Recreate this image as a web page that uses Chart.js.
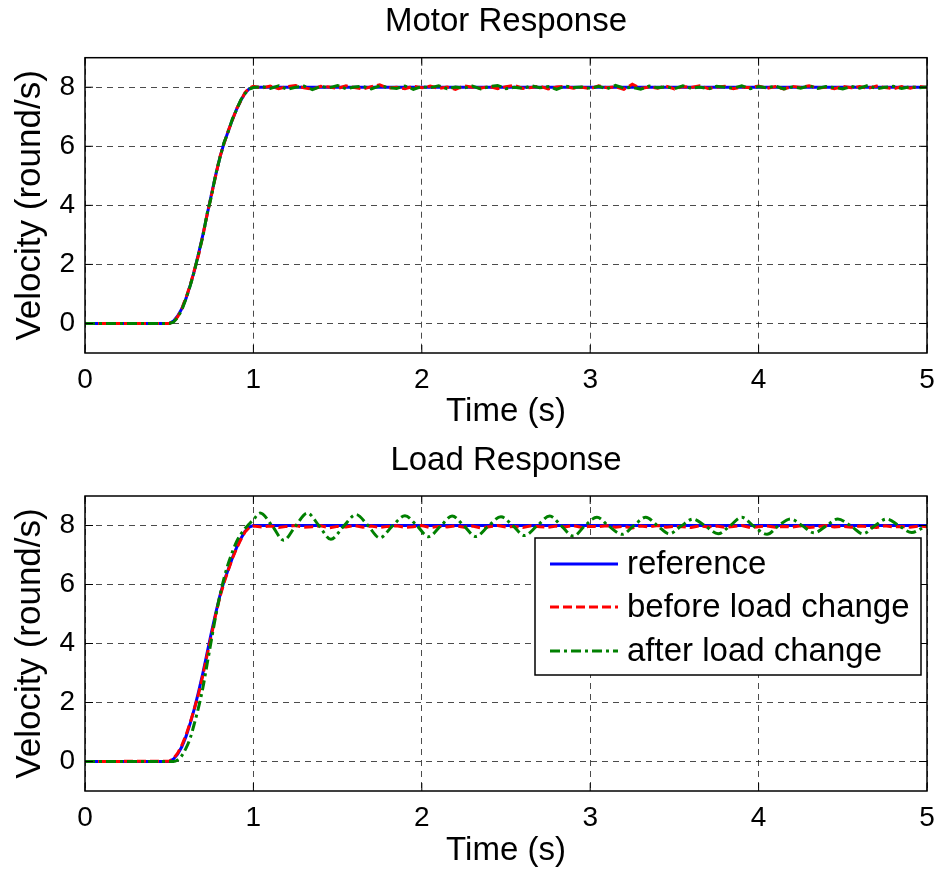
<!DOCTYPE html>
<html><head><meta charset="utf-8">
<script src="https://cdn.jsdelivr.net/npm/chart.js@4/dist/chart.umd.min.js"></script>
<style>
html,body{margin:0;padding:0;background:#fff;width:938px;height:871px;overflow:hidden}
#c1{position:absolute;left:0;top:0}
#c2{position:absolute;left:0;top:440px}
</style></head><body>
<canvas id="c1" width="938" height="440"></canvas>
<canvas id="c2" width="938" height="431"></canvas>
<script>
// ---- data ----
const xTicks = [0, 1, 2, 3, 4, 5];
const yTicks = [0, 2, 4, 6, 8];
const seriesNames = ['reference', 'before load change', 'after load change'];

// reference speed profile (shared by both plots)
const refT = [0, 0.5, 0.525, 0.55, 0.575, 0.6, 0.625, 0.65, 0.675, 0.7, 0.725, 0.75, 0.775, 0.8, 0.825, 0.85, 0.875, 0.9, 0.925, 0.95, 0.975, 1.0, 5.0];
const refV = [0, 0, 0.08, 0.25, 0.5, 0.85, 1.3, 1.8, 2.38, 3.0, 3.68, 4.35, 5.0, 5.6, 6.1, 6.5, 6.9, 7.25, 7.55, 7.8, 7.95, 8.0, 8.0];

// measured time base
const timeA = [0, 0.5, 0.525, 0.55, 0.575, 0.6, 0.625, 0.65, 0.675, 0.7, 0.725, 0.75, 0.775, 0.8, 0.825, 0.85, 0.875, 0.9, 0.925, 0.95, 0.975, 1.0,
  1.05, 1.1, 1.15, 1.2, 1.25, 1.3, 1.35, 1.4, 1.45, 1.5, 1.55, 1.6, 1.65, 1.7, 1.75, 1.8, 1.85, 1.9, 1.95, 2.0,
  2.05, 2.1, 2.15, 2.2, 2.25, 2.3, 2.35, 2.4, 2.45, 2.5, 2.55, 2.6, 2.65, 2.7, 2.75, 2.8, 2.85, 2.9, 2.95, 3.0,
  3.05, 3.1, 3.15, 3.2, 3.25, 3.3, 3.35, 3.4, 3.45, 3.5, 3.55, 3.6, 3.65, 3.7, 3.75, 3.8, 3.85, 3.9, 3.95, 4.0,
  4.05, 4.1, 4.15, 4.2, 4.25, 4.3, 4.35, 4.4, 4.45, 4.5, 4.55, 4.6, 4.65, 4.7, 4.75, 4.8, 4.85, 4.9, 4.95, 5.0];

const motorBefore = [0, 0, 0.06, 0.22, 0.5, 0.88, 1.3, 1.82, 2.33, 2.98, 3.68, 4.32, 4.98, 5.62, 6.08, 6.52, 6.88, 7.27, 7.53, 7.82, 7.97, 8.03,
  7.97, 8.04, 7.95, 8.02, 8.06, 7.98, 7.93, 8.03, 8.01, 7.96, 8.05, 7.99, 7.94, 8.02, 8.08, 7.97, 8.0, 7.95, 8.03, 7.98,
  8.04, 7.96, 8.01, 7.93, 8.05, 8.0, 7.97, 8.03, 7.95, 8.02, 8.06, 7.96, 7.99, 8.04, 7.94, 8.01, 8.03, 7.97, 8.0, 7.95,
  8.05, 7.98, 8.02, 7.93, 8.1, 7.96, 8.01, 7.97, 8.04, 7.94, 8.02, 7.99, 8.05, 7.96, 8.0, 8.03, 7.95, 8.01, 7.98, 8.04,
  7.96, 8.02, 7.94, 8.03, 7.99, 8.05, 7.97, 8.0, 7.95, 8.03, 7.98, 8.02, 7.96, 8.04, 7.99, 7.95, 8.02, 7.97, 8.03, 7.99];

const motorAfter = [0, 0, 0.04, 0.2, 0.46, 0.84, 1.28, 1.78, 2.38, 2.95, 3.72, 4.28, 5.02, 5.58, 6.12, 6.48, 6.92, 7.24, 7.57, 7.78, 7.94, 7.99,
  8.02, 7.96, 8.05, 7.93, 8.0, 8.04, 7.92, 8.03, 7.98, 8.06, 7.95, 8.01, 8.03, 7.94, 8.05, 7.99, 7.96, 8.04, 7.93, 8.02,
  7.98, 8.05, 7.95, 8.01, 7.97, 8.04, 7.94, 8.02, 8.06, 7.95, 8.0, 7.96, 8.05, 7.98, 8.02, 7.93, 8.04, 7.99, 8.01, 7.96,
  8.03, 7.95, 8.06, 7.97, 8.0, 7.93, 8.04, 7.98, 8.02, 7.95, 8.05, 7.96, 8.01, 7.94, 8.03, 8.0, 7.97, 8.05, 7.95, 8.02,
  7.98, 8.04, 7.94, 8.01, 7.97, 8.05, 7.96, 8.02, 7.99, 7.94, 8.03, 7.97, 8.06, 7.95, 8.0, 8.03, 7.96, 8.02, 7.98, 8.01];

const loadBefore = [0, 0.01, 0.1, 0.28, 0.55, 0.9, 1.32, 1.8, 2.3, 2.92, 3.6, 4.25, 4.95, 5.55, 6.05, 6.47, 6.88, 7.22, 7.52, 7.78, 7.93, 7.98,
  7.95, 7.98, 7.93, 7.97, 8.0, 7.94, 7.96, 7.99, 7.92, 7.97, 7.95, 8.0, 7.94, 7.98, 7.93, 7.97, 7.99, 7.94, 7.96, 8.0,
  7.93, 7.97, 7.95, 7.99, 7.94, 7.98, 7.92, 7.96, 8.0, 7.95, 7.97, 7.93, 7.99, 7.96, 7.94, 7.98, 7.95, 8.0, 7.93, 7.97,
  7.96, 7.99, 7.94, 7.97, 7.92, 7.98, 7.95, 8.0, 7.94, 7.97, 7.96, 7.93, 7.99, 7.95, 7.98, 7.94, 7.97, 8.0, 7.93, 7.96,
  7.98, 7.94, 7.97, 7.95, 7.99, 7.93, 7.96, 8.0, 7.95, 7.97, 7.94, 7.98, 7.96, 7.93, 7.99, 7.95, 7.97, 7.94, 7.98, 7.96];

const loadAfterT = [0, 0.5, 0.525, 0.55, 0.575, 0.6, 0.625, 0.65, 0.675, 0.7, 0.725, 0.75, 0.775, 0.8, 0.825, 0.85, 0.875, 0.9, 0.925, 0.95, 0.975, 1.0,
  1.04, 1.11, 1.18, 1.25, 1.32, 1.39, 1.46, 1.535, 1.61, 1.68, 1.75, 1.825, 1.9, 1.97, 2.04, 2.11, 2.18, 2.25, 2.32, 2.395,
  2.47, 2.54, 2.61, 2.685, 2.76, 2.83, 2.9, 2.97, 3.04, 3.11, 3.19, 3.26, 3.33, 3.4, 3.47, 3.54, 3.61, 3.68, 3.76, 3.83,
  3.9, 3.97, 4.05, 4.12, 4.19, 4.26, 4.33, 4.4, 4.47, 4.545, 4.62, 4.69, 4.76, 4.835, 4.91, 4.96, 5.0];
const loadAfterV = [0, 0, 0, 0.05, 0.2, 0.45, 0.8, 1.3, 1.85, 2.5, 3.3, 4.1, 4.9, 5.6, 6.2, 6.7, 7.1, 7.45, 7.7, 7.9, 8.05, 8.2,
  8.42, 8.0, 7.5, 7.98, 8.42, 7.99, 7.53, 7.97, 8.37, 8.0, 7.58, 7.98, 8.33, 8.0, 7.62, 7.97, 8.32, 7.99, 7.63, 7.98,
  8.3, 8.0, 7.66, 7.99, 8.32, 7.98, 7.64, 8.0, 8.28, 7.98, 7.7, 8.0, 8.28, 7.99, 7.72, 7.98, 8.22, 8.0, 7.72, 7.99,
  8.28, 7.98, 7.7, 8.0, 8.22, 7.99, 7.75, 7.98, 8.22, 8.0, 7.72, 7.99, 8.22, 7.99, 7.76, 7.88, 8.0];

// ---- styling / helpers ----
const FONT = "'Liberation Sans', Arial, Helvetica, sans-serif";
const pts = (ts, vs) => ts.map((t, i) => ({x: t, y: vs[i]}));
const styles = [
  {borderColor: '#0000ff', borderWidth: 3, borderDash: [], order: 3},
  {borderColor: '#ff0000', borderWidth: 3, borderDash: [9, 4], order: 2},
  {borderColor: '#008000', borderWidth: 3, borderDash: [10, 4, 3, 4], order: 1}
];

const boxPlugin = {
  id: 'box',
  afterDatasetsDraw(chart) {
    const {ctx, chartArea: a, scales: {x, y}} = chart;
    ctx.save();
    ctx.setLineDash([]);
    ctx.strokeStyle = '#000';
    ctx.lineWidth = 1.5;
    ctx.strokeRect(a.left, a.top, a.right - a.left, a.bottom - a.top);
    ctx.beginPath();
    x.ticks.forEach(t => {
      const p = x.getPixelForValue(t.value);
      ctx.moveTo(p, a.bottom); ctx.lineTo(p, a.bottom - 8);
      ctx.moveTo(p, a.top); ctx.lineTo(p, a.top + 8);
    });
    y.ticks.forEach(t => {
      const p = y.getPixelForValue(t.value);
      ctx.moveTo(a.left, p); ctx.lineTo(a.left + 8, p);
      ctx.moveTo(a.right, p); ctx.lineTo(a.right - 8, p);
    });
    ctx.lineWidth = 1;
    ctx.stroke();
    ctx.restore();
  }
};

// axes title centred over the plot area (as MATLAB does)
const axTitlePlugin = {
  id: 'axTitle',
  afterDraw(chart, args, opts) {
    const {ctx, chartArea: a} = chart;
    ctx.save();
    ctx.font = '33px ' + FONT;
    ctx.fillStyle = '#000';
    ctx.textAlign = 'center';
    ctx.textBaseline = 'middle';
    ctx.fillText(opts.text, (a.left + a.right) / 2, opts.y);
    ctx.restore();
  }
};

const legendPlugin = {
  id: 'boxLegend',
  afterDraw(chart) {
    const {ctx, chartArea: a} = chart;
    const w = 386, h = 137;
    const x0 = a.right - 6 - w, y0 = a.top + 42;
    ctx.save();
    ctx.setLineDash([]);
    ctx.fillStyle = '#fff';
    ctx.fillRect(x0, y0, w, h);
    ctx.strokeStyle = '#000';
    ctx.lineWidth = 1.5;
    ctx.strokeRect(x0, y0, w, h);
    const rows = [26, 69, 113];
    chart.data.datasets.forEach((ds, i) => {
      const yy = y0 + rows[i];
      ctx.beginPath();
      ctx.strokeStyle = ds.borderColor;
      ctx.lineWidth = ds.borderWidth;
      ctx.setLineDash(ds.borderDash || []);
      ctx.moveTo(x0 + 15, yy); ctx.lineTo(x0 + 83, yy);
      ctx.stroke();
      ctx.setLineDash([]);
      ctx.fillStyle = '#000';
      ctx.font = '33px ' + FONT;
      ctx.textBaseline = 'middle';
      ctx.textAlign = 'left';
      ctx.fillText(ds.label, x0 + 92, yy + 1);
    });
    ctx.restore();
  }
};

function makeChart(id, title, datasets, cfg, withLegend) {
  return new Chart(document.getElementById(id), {
    type: 'line',
    data: {datasets},
    options: {
      responsive: false, animation: false, devicePixelRatio: 1,
      layout: {padding: {left: 0, right: 11, top: cfg.top, bottom: 0}},
      elements: {point: {radius: 0}, line: {tension: 0}},
      plugins: {
        legend: {display: false}, tooltip: {enabled: false}, title: {display: false},
        axTitle: {text: title, y: cfg.titleY}
      },
      scales: {
        x: {
          type: 'linear', min: 0, max: 5,
          afterBuildTicks: s => { s.ticks = xTicks.map(v => ({value: v})); },
          afterFit: s => { s.height = cfg.xHeight; s.paddingLeft = 0; s.paddingRight = 0; },
          grid: {color: 'rgba(0,0,0,0.7)', lineWidth: 1, drawTicks: false},
          border: {display: false, dash: [6, 5]},
          ticks: {color: '#000', padding: 10, maxRotation: 0, font: {family: FONT, size: 28}},
          title: {display: true, text: 'Time (s)', color: '#000', font: {family: FONT, size: 33},
            padding: {top: 0, bottom: cfg.xTitleBottom}}
        },
        y: {
          type: 'linear', min: -1, max: 9,
          afterBuildTicks: s => { s.ticks = yTicks.map(v => ({value: v})); },
          afterFit: s => { s.width = 85; s.paddingTop = 0; s.paddingBottom = 0; },
          grid: {color: 'rgba(0,0,0,0.7)', lineWidth: 1, drawTicks: false},
          border: {display: false, dash: [6, 5]},
          ticks: {color: '#000', padding: 10, font: {family: FONT, size: 28}},
          title: {display: true, text: 'Velocity (round/s)', color: '#000', font: {family: FONT, size: 35},
            padding: {top: 9, bottom: 0}}
        }
      }
    },
    plugins: withLegend ? [boxPlugin, axTitlePlugin, legendPlugin] : [boxPlugin, axTitlePlugin]
  });
}

makeChart('c1', 'Motor Response', [
  Object.assign({label: seriesNames[0], data: pts(refT, refV)}, styles[0]),
  Object.assign({label: seriesNames[1], data: pts(timeA, motorBefore)}, styles[1]),
  Object.assign({label: seriesNames[2], data: pts(timeA, motorAfter)}, styles[2])
], {top: 57.7, titleY: 22, xHeight: 87, xTitleBottom: 8}, false);

makeChart('c2', 'Load Response', [
  Object.assign({label: seriesNames[0], data: pts(refT, refV)}, styles[0]),
  Object.assign({label: seriesNames[1], data: pts(timeA, loadBefore)}, styles[1]),
  Object.assign({label: seriesNames[2], data: pts(loadAfterT, loadAfterV), cubicInterpolationMode: 'monotone'}, styles[2])
], {top: 56, titleY: 20.5, xHeight: 80, xTitleBottom: 0}, true);
</script>
</body></html>
